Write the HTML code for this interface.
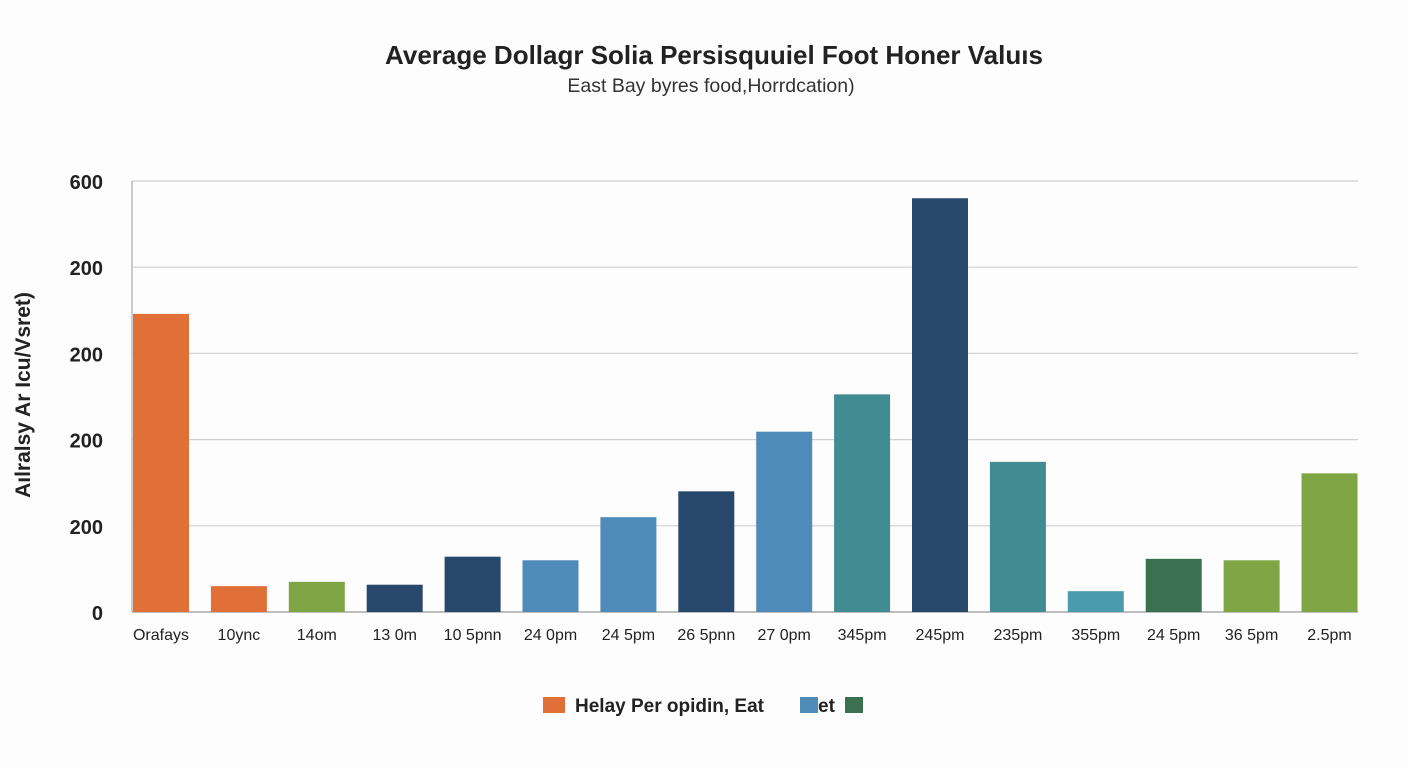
<!DOCTYPE html>
<html><head><meta charset="utf-8"><style>
body{margin:0;background:#fff;font-family:"Liberation Sans",Arial,sans-serif;}
svg{display:block}
</style></head><body>
<svg id="chart" width="1408" height="768">
<rect width="1408" height="768" fill="#fdfdfd"/>
<text x="714" y="64" text-anchor="middle" font-size="26" font-weight="bold" fill="#222">Average Dollagr Solia Persisquuiel Foot Honer Valuıs</text>
<text x="711" y="92" text-anchor="middle" font-size="19.5" fill="#333">East Bay byres food,Horrdcation)</text>
<text transform="translate(30,395) rotate(-90)" text-anchor="middle" font-size="21" font-weight="bold" fill="#222">Aılralsy Ar Icu/Vsret)</text>
<g id="grid"></g><g id="bars"></g><g id="xlabels"></g>
<g>
<rect x="543" y="697" width="22" height="16" fill="#e07038"/>
<text x="575" y="712" font-size="19" font-weight="bold" fill="#222">Helay Per opidin, Eat</text>
<rect x="800" y="697" width="18" height="16" fill="#4f8bb8"/>
<text x="818" y="712" font-size="19" font-weight="bold" fill="#222">et</text>
<rect x="845" y="697" width="18" height="16" fill="#3b7150"/>
</g>
</svg>
<script>
const categories=["Orafays","10ync","14om","13 0m","10 5pnn","24 0pm","24 5pm","26 5pnn","27 0pm","345pm","245pm","235pm","355pm","24 5pm","36 5pm","2.5pm"];
const values=[415,36,42,38,77,72,132,168,251,303,576,209,29,74,72,193];
const colors=["#e07038","#e07038","#7fa544","#27476b","#27476b","#4f8bb8","#4f8bb8","#27476b","#4f8bb8","#418b93","#27476b","#418b93","#4a9cad","#3b7150","#7fa544","#7fa544"];
const tickValues=[0,120,240,360,480,600];
const tickLabels=["0","200","200","200","200","600"];
const NS="http://www.w3.org/2000/svg";
const y0=612,y1=181,vmax=600;
const y=v=>y0-(v/vmax)*(y0-y1);
const xStart=161,step=77.9,bw=56;
const x=i=>xStart+i*step;
function mk(tag,attrs,parent){const e=document.createElementNS(NS,tag);for(const k in attrs)e.setAttribute(k,attrs[k]);parent.appendChild(e);return e;}
const grid=document.getElementById('grid');
tickValues.forEach((t,i)=>{
 const l=mk('line',{x1:132,x2:1358,y1:y(t),y2:y(t),stroke:i==0?'#999':'#d0d0d0','stroke-width':1.2},grid);
 
 
 const tx=mk('text',{x:103,y:y(t)+8,'text-anchor':'end','font-size':20,'font-weight':'bold',fill:'#222'},grid);
 tx.textContent=tickLabels[i];
 
 
});
const ax=mk('line',{x1:132,x2:132,y1:y1,y2:y0,stroke:'#aaa','stroke-width':1.2},grid);


const bars=document.getElementById('bars'),xl=document.getElementById('xlabels');
values.forEach((v,i)=>{
 const r=mk('rect',{x:x(i)-bw/2,y:y(v),width:bw,height:y0-y(v),fill:colors[i]},bars);
 
 
 const t=mk('text',{x:x(i),y:640,'text-anchor':'middle','font-size':16,fill:'#222'},xl);
 t.textContent=categories[i];
 
 
});
</script>
</body></html>
